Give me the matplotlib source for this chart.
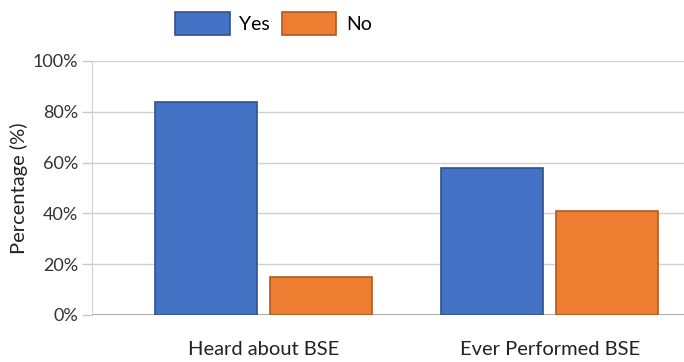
import numpy as np
import matplotlib.pyplot as plt

plt.rcParams['font.family'] = ['Lato', 'DejaVu Sans']

categories = ['Heard about BSE', 'Ever Performed BSE']
yes_vals = [84, 58]
no_vals = [15, 41]
series = ['Yes', 'No']

blue, blue_edge = '#4472C4', '#2F528F'
orange, orange_edge = '#ED7D31', '#AE5A21'

fig = plt.figure(figsize=(6.84, 3.62), dpi=100)
ax = fig.add_axes([0.1345, 0.13, 0.8655, 0.7015])

x = np.arange(len(categories))
w = 0.357
b1 = ax.bar(x - 0.2, np.array(yes_vals) / 100, w, color=blue, edgecolor=blue_edge,
            linewidth=1.2, label=series[0], zorder=3)
b2 = ax.bar(x + 0.2, np.array(no_vals) / 100, w, color=orange, edgecolor=orange_edge,
            linewidth=1.2, label=series[1], zorder=3)

ax.set_xlim(-0.6, 1.47)
ax.set_ylim(0, 1.0)
ax.set_yticks(np.arange(0, 1.01, 0.2))
ax.set_yticklabels(['%d%%' % v for v in range(0, 101, 20)], fontsize=13, color='#333333')
ax.set_xticks(x)
ax.set_xticklabels(categories, fontsize=14.5, color='#222222')
ax.tick_params(axis='x', length=0, pad=19)
ax.tick_params(axis='y', length=7, width=1, color='#c8c8c8', pad=3)

ax.grid(axis='y', color='#d0d0d0', linewidth=1, zorder=0)
for s in ['top', 'right', 'bottom']:
    ax.spines[s].set_visible(False)
ax.spines['left'].set_color('#d0d0d0')
ax.axhline(0, color='#a0a0a0', linewidth=1.2, zorder=2)

# y label sits just left of the tick labels
ax.set_ylabel('Percentage (%)', fontsize=14.5, color='#222222')
ax.yaxis.set_label_coords(-0.108, 0.5)

fig.legend(handles=[b1, b2], labels=series, loc='center', bbox_to_anchor=(0.40, 0.935),
           ncol=2, frameon=False, fontsize=14, handlelength=2.8, handleheight=1.5,
           columnspacing=0.6, handletextpad=0.5)

fig.savefig('out.png', dpi=100)
